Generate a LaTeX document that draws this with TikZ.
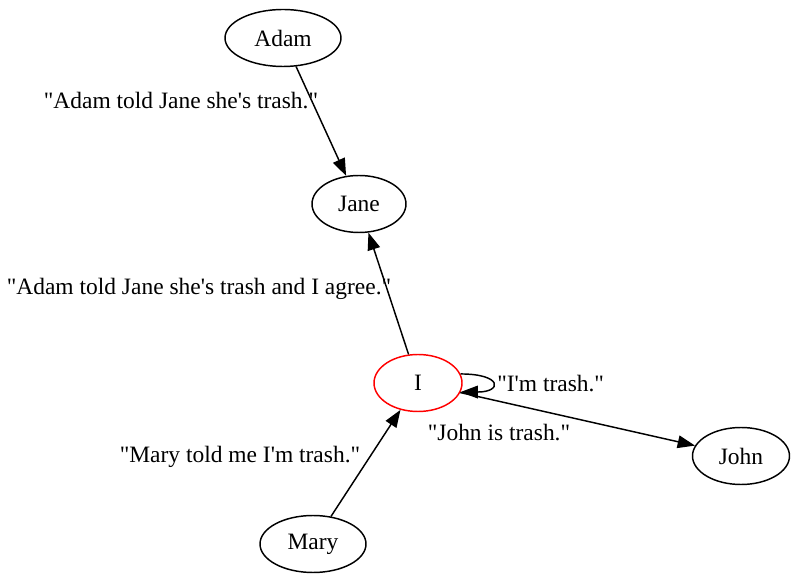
\documentclass[tikz,border=0pt]{standalone}
\usepackage{fontspec}
\setmainfont[Ligatures=TeXOff]{Liberation Serif}
\usetikzlibrary{arrows.meta,shapes.geometric}

\begin{document}
\begin{tikzpicture}[
    x=0.75pt, y=-0.75pt,
    every node/.style={font=\fontsize{17.6pt}{21pt}\selectfont},
    person/.style={draw, ellipse, line width=1.1pt, inner sep=0pt, minimum width=#1, minimum height=42.75pt},
    saying/.style={inner sep=0pt},
    arrow/.style={-{Triangle[length=13pt, width=9.5pt]}, line width=1.1pt}
]
    \useasboundingbox (0,0) rectangle (796,580);

    \node[person=87pt] (adam) at (283,38) {Adam};
    \node[person=70.5pt] (jane) at (359,204) {Jane};
    \node[person=66pt, draw=red] (me) at (418,383) {I};
    \node[person=72.75pt] (john) at (741,456) {John};
    \node[person=79.5pt] (mary) at (313,544) {Mary};

    \node[saying] (told) at (181,101) {"Adam told Jane she's trash."};
    \node[saying] (agree) at (199,289) {"Adam told Jane she's trash and I agree."};
    \node[saying, anchor=west] (self) at (497,384) {"I'm trash."};
    \node[saying] (johnsays) at (499,433) {"John is trash."};
    \node[saying] (marysays) at (240,457) {"Mary told me I'm trash."};

    \draw[arrow] (adam) -- (jane);
    \draw[arrow] (me) -- (jane);
    \draw[arrow] (mary) -- (me);
    \draw[arrow] (me) -- (john);
    \draw[arrow] (me.12) .. controls +(42,0) and +(42,0) .. (me.-12);
\end{tikzpicture}
\end{document}
